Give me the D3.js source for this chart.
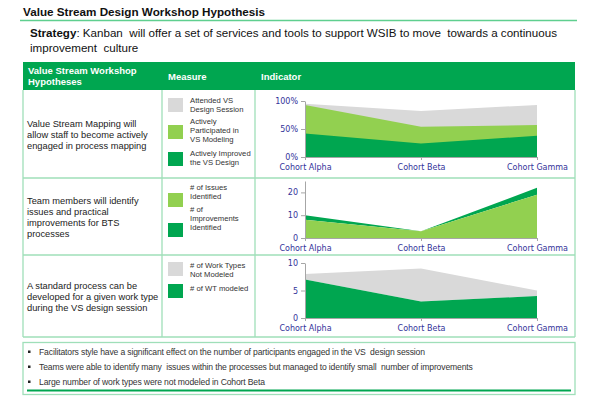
<!DOCTYPE html>
<html>
<head>
<meta charset="utf-8">
<script src="https://cdn.jsdelivr.net/npm/d3@7"></script>
<style>
  body { margin: 0; background: #fff; }
  svg { font-family: "Liberation Sans", Arial, sans-serif; }
</style>
</head>
<body>
<svg id="page" width="600" height="405"></svg>
<script>
// data
const cohorts = ["Cohort Alpha", "Cohort Beta", "Cohort Gamma"];
const attended = [95, 82, 93];
const participated = [93, 54, 57];
const improved = [42, 24, 38];
const issues = [8, 3, 19];
const improvements = [2, 0, 3];
const wtModeled = [7, 3, 4];
const wtNotModeled = [1, 6, 1];

const hypotheses = [
  ["Value Stream Mapping will", "allow staff to become actively", "engaged in process mapping"],
  ["Team members will identify", "issues and practical", "improvements for BTS", "processes"],
  ["A standard process can be", "developed for a given work type", "during the VS design session"]
];
const bullets = [
  "Facilitators style have a significant effect on the number of participants engaged in the VS  design session",
  "Teams were able to identify many  issues within the processes but managed to identify small  number of improvements",
  "Large number of work types were not modeled in Cohort Beta"
];

const GREY = "#d9d9d9", LIGHT = "#92d050", DARK = "#00a650", LINE = "#9fdfb9";
const svg = d3.select("#page");

// title + strategy
svg.append("text").attr("x", 23).attr("y", 16).attr("font-size", 11.7).attr("font-weight", "bold")
  .attr("fill", "#111").text("Value Stream Design Workshop Hypothesis");
svg.append("line").attr("x1", 20).attr("x2", 577).attr("y1", 20.5).attr("y2", 20.5)
  .attr("stroke", "#5fcf8f").attr("stroke-width", 1.5);
const strat = svg.append("text").attr("x", 30).attr("y", 37).attr("font-size", 11.6).attr("fill", "#111")
  .style("white-space", "pre");
strat.append("tspan").attr("font-weight", "bold").text("Strategy");
strat.append("tspan").text(": Kanban  will offer a set of services and tools to support WSIB to move  towards a continuous");
svg.append("text").attr("x", 30).attr("y", 52).attr("font-size", 11.6).attr("fill", "#111")
  .style("white-space", "pre").text("improvement  culture");

// table
const colX = [23, 162, 255, 575];
const rowY = [90, 178, 255, 337];
svg.append("rect").attr("x", colX[0]).attr("y", 62).attr("width", colX[3] - colX[0]).attr("height", 28).attr("fill", DARK);
const head = svg.append("g").attr("fill", "#fff").attr("font-size", 9.5).attr("font-weight", "bold");
head.append("text").attr("x", 28).attr("y", 74).text("Value Stream Workshop");
head.append("text").attr("x", 28).attr("y", 85).text("Hypotheses");
head.append("text").attr("x", 168).attr("y", 80).text("Measure");
head.append("text").attr("x", 261).attr("y", 80).text("Indicator");

const grid = svg.append("g").attr("stroke", LINE).attr("stroke-width", 1.3);
colX.forEach(x => grid.append("line").attr("x1", x).attr("x2", x).attr("y1", 90).attr("y2", rowY[3]));
rowY.slice(1).forEach(y => grid.append("line").attr("x1", colX[0]).attr("x2", colX[3]).attr("y1", y).attr("y2", y));

hypotheses.forEach((lines, i) => {
  const mid = (rowY[i] + rowY[i + 1]) / 2;
  const first = mid - (lines.length - 1) * 11 / 2 + 3.5;
  lines.forEach((t, j) => svg.append("text").attr("x", 27).attr("y", first + j * 11)
    .attr("font-size", 9.3).attr("fill", "#222").text(t));
});

// legends
const legends = [
  [{ c: GREY, y: 98, t: ["Attended VS", "Design Session"], ty: 103 },
   { c: LIGHT, y: 125, t: ["Actively", "Participated in", "VS Modeling"], ty: 124 },
   { c: DARK, y: 152, t: ["Actively Improved", "the VS Design"], ty: 156 }],
  [{ c: LIGHT, y: 193, t: ["# of Issues", "Identified"], ty: 190 },
   { c: DARK, y: 223, t: ["# of", "Improvements", "Identified"], ty: 212 }],
  [{ c: GREY, y: 262, t: ["# of Work Types", "Not Modeled"], ty: 268 },
   { c: DARK, y: 284, t: ["# of WT modeled"], ty: 291 }]
];
legends.flat().forEach(d => {
  svg.append("rect").attr("x", 168).attr("y", d.y).attr("width", 15).attr("height", 14).attr("fill", d.c);
  d.t.forEach((t, j) => svg.append("text").attr("x", 190).attr("y", d.ty + j * 9)
    .attr("font-size", 7.7).attr("fill", "#333").text(t));
});

// charts
const x = d3.scalePoint().domain(cohorts).range([305, 537]);

function chart(cfg) {
  const y = d3.scaleLinear().domain(cfg.domain).range(cfg.range);
  const g = svg.append("g");
  const area = d3.area().x((d, i) => x(cohorts[i])).y0(d => y(d[0])).y1(d => y(d[1]));
  cfg.series.forEach(s => g.append("path").datum(s.v).attr("d", area).attr("fill", s.c));

  const ya = g.append("g").attr("transform", `translate(${x.range()[0]},0)`)
    .call(d3.axisLeft(y).tickValues(cfg.ticks).tickSize(4).tickSizeOuter(0).tickFormat(cfg.fmt || (d => d)));
  const xa = g.append("g").attr("transform", `translate(0,${cfg.range[0]})`)
    .call(d3.axisBottom(x).tickSize(3).tickSizeOuter(0).tickPadding(4));
  [ya, xa].forEach(a => {
    a.select(".domain").attr("stroke", "#a6a6a6");
    a.selectAll(".tick line").attr("stroke", "#a6a6a6");
    a.selectAll("text").attr("fill", "#33339a").attr("font-size", 8).attr("font-family", "DejaVu Sans");
  });
}

chart({
  domain: [0, 100], range: [157, 101], ticks: [0, 50, 100], fmt: d => d + "%",
  series: [
    { c: GREY, v: attended.map(v => [0, v]) },
    { c: LIGHT, v: participated.map(v => [0, v]) },
    { c: DARK, v: improved.map(v => [0, v]) }
  ]
});

const stack2 = d3.stack().keys(["issues", "improvements"])(cohorts.map((c, i) => ({ issues: issues[i], improvements: improvements[i] })));
chart({
  domain: [0, 25], range: [238, 181], ticks: [0, 10, 20],
  series: [{ c: DARK, v: stack2[1] }, { c: LIGHT, v: stack2[0] }]
});

const stack3 = d3.stack().keys(["modeled", "notModeled"])(cohorts.map((c, i) => ({ modeled: wtModeled[i], notModeled: wtNotModeled[i] })));
chart({
  domain: [0, 10], range: [318, 263], ticks: [0, 5, 10],
  series: [{ c: GREY, v: stack3[1] }, { c: DARK, v: stack3[0] }]
});

// findings box
svg.append("rect").attr("x", 23).attr("y", 342.5).attr("width", 552).attr("height", 52)
  .attr("fill", "none").attr("stroke", LINE).attr("stroke-width", 1.3);
bullets.forEach((t, i) => {
  const by = 355 + i * 15;
  svg.append("rect").attr("x", 28).attr("y", by - 4.5).attr("width", 2.5).attr("height", 2.5).attr("fill", "#222");
  svg.append("text").attr("x", 39).attr("y", by).attr("font-size", 8.6).attr("fill", "#333")
    .style("white-space", "pre").attr("letter-spacing", -0.15).text(t);
});
svg.append("line").attr("x1", 27).attr("x2", 571).attr("y1", 390.5).attr("y2", 390.5)
  .attr("stroke", DARK).attr("stroke-width", 2);
</script>
</body>
</html>
